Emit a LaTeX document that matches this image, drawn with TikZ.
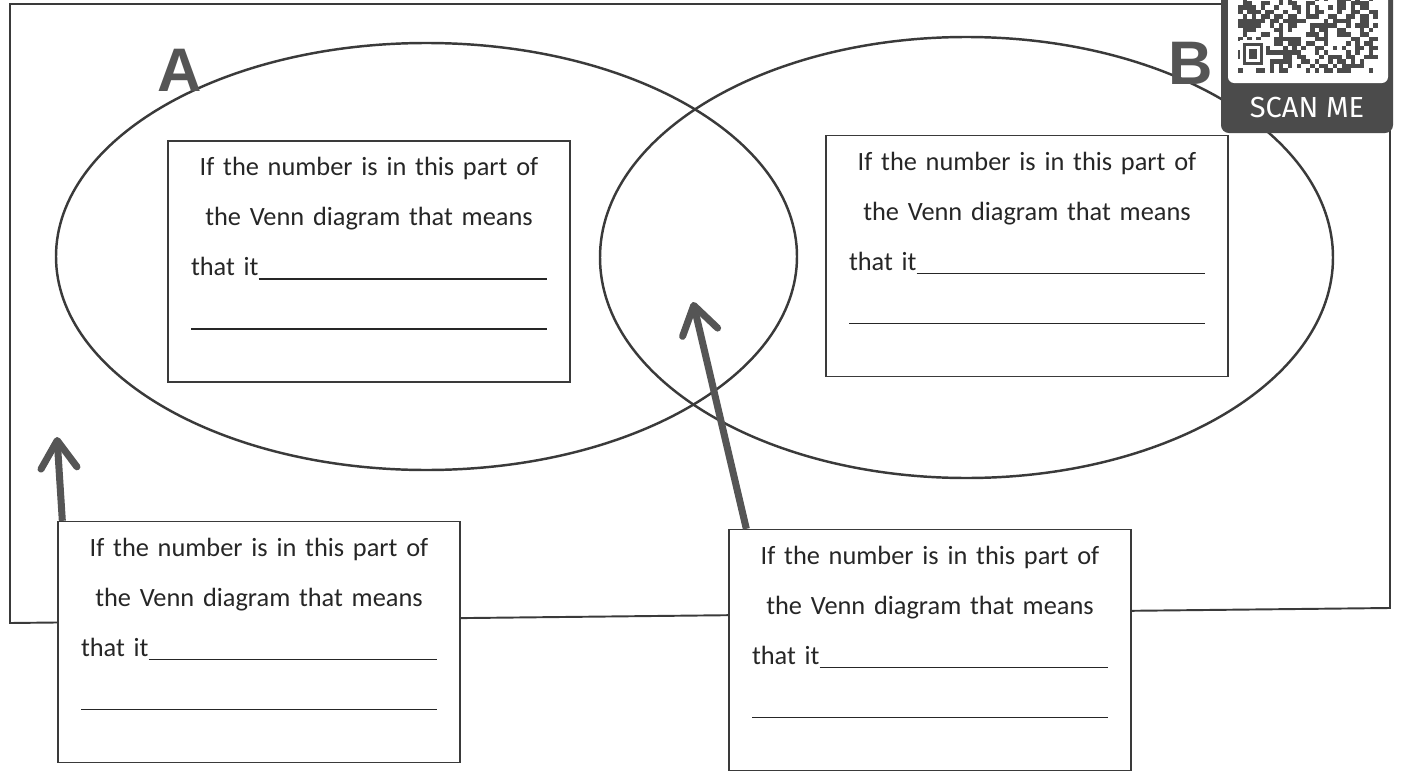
\documentclass[tikz,border=0pt]{standalone}
\usepackage{fontspec}
\setmainfont{Carlito}
\newfontfamily\setfont{Liberation Sans}
\newfontfamily\qrfont{Fira Sans}
\usetikzlibrary{positioning,arrows.meta}

\definecolor{ink}{HTML}{3A3A3A}
\definecolor{pen}{HTML}{555555}
\definecolor{qrgray}{HTML}{4B4B4B}

\newcommand{\fillline}{\leaders\hrule height -1.3pt depth 2.1pt\hfill\null}
\newcommand{\answerlines}{If the number is in this part of\\ the Venn diagram that means\\ \makebox[7.12cm][l]{that it\fillline}\\ \makebox[7.12cm]{\fillline}}

\tikzset{
  venn/.style={draw=ink, line width=1.4pt},
  frame/.style={draw=ink, line width=1.1pt},
  answer/.style={draw=ink, fill=white, line width=0.8pt, minimum width=8.04cm, minimum height=4.82cm, inner sep=0pt},
  answertext/.style={text width=7.12cm, align=center, inner sep=0pt, text=black!85, font=\fontsize{15}{28.45}\selectfont},
  setlabel/.style={text=pen, font=\setfont\bfseries\fontsize{35}{35}\selectfont, inner sep=0pt},
  pointer/.style={draw=pen, line width=4pt, -{Straight Barb[length=0.55cm, width=0.72cm, line cap=round, line join=round]}}
}

\begin{document}
\begin{tikzpicture}[x=0.02cm, y=-0.02cm]
\useasboundingbox (0,0) rectangle (1401,771);

\draw[frame] (10,4) -- (1390,4) -- (1390,608) -- (10,623) -- cycle;

\draw[venn] (426.5,256.5) ellipse [x radius=370.5, y radius=213.5];
\draw[venn] (966.5,257.5) ellipse [x radius=366.5, y radius=220.5];

\node[setlabel] (labA) at (180,70) {A};
\node[setlabel] (labB) at (1191,63) {B};

\node[answer] (boxA) at (369,261.5) {};
\node[answertext, below=0.34cm of boxA.north] (txtA) {\answerlines};
\node[answer] (boxB) at (1027,256) {};
\node[answertext, below=0.34cm of boxB.north] (txtB) {\answerlines};
\node[answer] (boxC) at (259,642) {};
\node[answertext, below=0.34cm of boxC.north] (txtC) {\answerlines};
\node[answer] (boxD) at (930,650) {};
\node[answertext, below=0.34cm of boxD.north] (txtD) {\answerlines};

\coordinate (tipC) at (57,437);
\coordinate (tipD) at (693,302);
\draw[pointer] (boxC.north west) ++(5,0) -- (tipC);
\draw[pointer] (boxD.north west) ++(18,0) -- (tipD);

% scan me badge
\fill[qrgray, rounded corners=4.5pt] (1221,-20) rectangle (1393,133);
\fill[white, rounded corners=3.5pt] (1228,-20) rectangle (1388,83);
\pgfmathsetseed{12}
\foreach \i in {0,...,30}
  \foreach \j in {0,...,16}{
    \pgfmathtruncatemacro\on{rnd>0.5}
    \ifnum\on=1 \fill[qrgray] (1238+4.5*\i,-4+4.5*\j) rectangle ++(4.5,4.5); \fi
  }
\fill[white] (1240,40) rectangle (1266,68);
\fill[qrgray] (1243,43) rectangle (1263,65);
\fill[white] (1246,46) rectangle (1260,62);
\fill[qrgray] (1249,49) rectangle (1257,59);
\node[text=white, font=\qrfont\fontsize{16.5}{16.5}\selectfont] (scan) at (1307,108) {SCAN ME};
\end{tikzpicture}
\end{document}
